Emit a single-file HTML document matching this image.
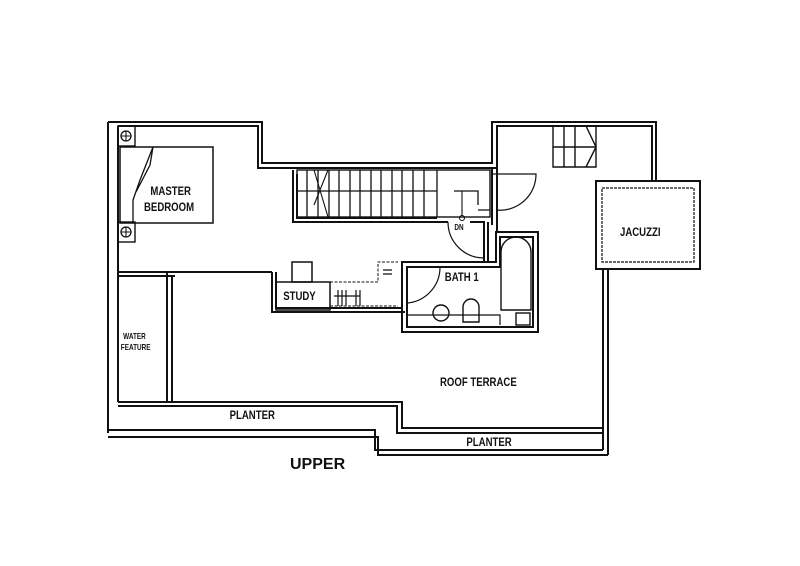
<!DOCTYPE html>
<html><head><meta charset="utf-8"><style>
html,body{margin:0;padding:0;background:#fff}
svg{display:block}
text{font-family:"Liberation Sans",sans-serif;fill:#111;font-weight:bold}
</style></head><body>
<svg width="800" height="566" viewBox="0 0 800 566" xmlns="http://www.w3.org/2000/svg">
<rect width="800" height="566" fill="#fff"/>
<g fill="none" stroke="#111" stroke-width="2">
<path d="M108 122 V433 M118 126 V402"/>
<path d="M108 122 H262 V163 H492 V122 H656 V181 M118 126 H258 V168 H497 V126 H652 V181"/>
<rect x="596" y="181" width="104" height="88"/>
<rect x="602" y="188" width="92" height="74" stroke-width="1.2" stroke-dasharray="3 1"/>
<path d="M603 269 V450 M608 269 V455"/>
<path d="M118 402 H402 V428 H603 M118 406 H397 V433 H603"/>
<path d="M108 430 H375 V450 H603 M108 437 H378 V455 H608"/>
<path d="M118 272 H272 M118 276 H175 M167 272 V402 M172 276 V402"/>
<path d="M272 272 V312 H405 M276 272 V308 H402"/>
<rect x="276" y="282" width="54" height="28" stroke-width="1.5"/>
<rect x="292" y="262" width="20" height="20" stroke-width="1.5"/>
<path d="M330 282 H378 V262 H398 M330 306 H398" stroke-width="1" stroke-dasharray="3 1.5"/>
<path d="M334 296 H360 M338 290 V306 M342 290 V306 M346 290 V306 M356 290 V306 M360 290 V306 M383 270 H392 M383 274 H392" stroke-width="1.2"/>
<path d="M402 262 V332 H538 V232 H496 V262 Z M407 267 V327 H533 V237 H500 V267 Z"/>
<path d="M407 267 H430 M407 315 H500 V325" stroke-width="1.2"/>
<path d="M408 303 A36 36 0 0 0 440 268" stroke-width="1.2"/>
<circle cx="441" cy="313" r="8" stroke-width="1.4"/>
<path d="M463 322 V307 A8 8 0 0 1 479 307 V322 Z" stroke-width="1.4"/>
<path d="M501 310 V252 A15 15 0 0 1 531 252 V310 Z" stroke-width="1.4"/>
<rect x="516" y="313" width="14" height="12" stroke-width="1.4"/>
<path d="M293 170 V222 H437 M297 174 V218 H437"/>
<path d="M437 222 H448 M470 222 H484 V262 M488 222 V262" />
<rect x="297" y="170" width="193" height="47" stroke-width="1.4"/>
<path d="M437 170 V217 M297 191 H437 M437 191 V217 M454 191 H478 V205 M478 210 H490" stroke-width="1.3"/>
<path d="M307 170 V217 M318 170 V217 M329 170 V217 M339 170 V217 M350 170 V217 M360 170 V217 M371 170 V217 M381 170 V217 M392 170 V217 M402 170 V217 M413 170 V217 M424 170 V217" stroke-width="1.3"/>
<path d="M314 170 L328 217 M328 170 L314 205" stroke-width="1.1"/>
<path d="M448 222 A36 36 0 0 0 484 258" stroke-width="1.2"/>
<path d="M492 174 H536 A36 36 0 0 1 496 210" stroke-width="1.2"/>
<path d="M492 168 V225 M497 168 V232" />
<circle cx="462" cy="218" r="2.5" stroke-width="1.1"/>
<path d="M462 191 V216" stroke-width="1.1"/>
<rect x="120" y="147" width="93" height="76" stroke-width="1.5"/>
<path d="M153 147 L140 180 L133 200 V222 M153 147 L150 165 L136 192" stroke-width="1.3"/>
<rect x="118" y="126" width="17" height="20" stroke-width="1.4"/>
<rect x="118" y="222" width="17" height="20" stroke-width="1.4"/>
<circle cx="126" cy="136" r="5" stroke-width="1.3"/>
<circle cx="126" cy="232" r="5" stroke-width="1.3"/>
<path d="M126 131 V141 M121 136 H131 M126 227 V237 M121 232 H131" stroke-width="1.1"/>
<path d="M553 126 V167 H596 V126 M553 147 H596 M564 126 V167 M575 126 V167 M586 126 L596 147 L586 167" stroke-width="1.4"/>
</g>
<g font-size="12" transform="scale(0.8 1)">
<text x="188" y="195">MASTER</text>
<text x="180" y="211">BEDROOM</text>
<text x="354" y="300">STUDY</text>
<text x="556" y="281">BATH  1</text>
<text x="550" y="386">ROOF  TERRACE</text>
<text x="287" y="419">PLANTER</text>
<text x="583" y="446">PLANTER</text>
<text x="775" y="236">JACUZZI</text>
</g>
<g font-size="8" transform="scale(0.8 1)">
<text x="154" y="339">WATER</text>
<text x="151" y="350">FEATURE</text>
<text x="568" y="230">DN</text>
</g>
<text x="290" y="469" font-size="16">UPPER</text>
</svg>
</body></html>
